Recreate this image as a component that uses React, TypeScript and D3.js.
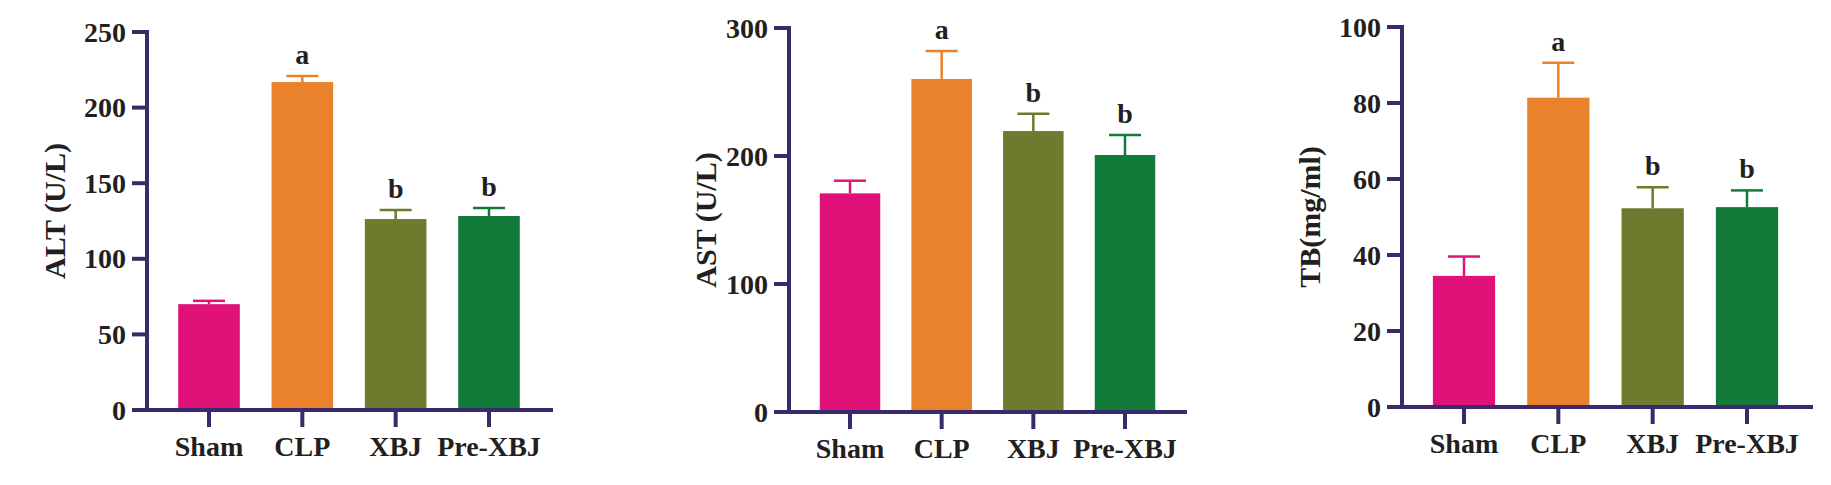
import React from "react";
import * as d3 from "d3";

const categories = ["Sham", "CLP", "XBJ", "Pre-XBJ"];
const barColors = ["#E1117A", "#E9822A", "#6C7B2E", "#127B39"];

const altMeans = [70, 216.9, 126.3, 128.3];
const altErrors = [2.2, 4, 6, 5.3];
const altLetters = ["", "a", "b", "b"];
const altTicks = [0, 50, 100, 150, 200, 250];

const astMeans = [170.8, 260.2, 219.5, 200.8];
const astErrors = [9.9, 21.8, 13.5, 15.6];
const astLetters = ["", "a", "b", "b"];
const astTicks = [0, 100, 200, 300];

const tbMeans = [34.5, 81.4, 52.3, 52.6];
const tbErrors = [5.1, 9.2, 5.5, 4.4];
const tbLetters = ["", "a", "b", "b"];
const tbTicks = [0, 20, 40, 60, 80, 100];

const AXIS = "#3A2A6C";
const TEXT = "#231F20";
const FONT = "'Liberation Serif', 'Times New Roman', serif";

type PanelProps = {
  title: string;
  means: number[];
  errors: number[];
  letters: string[];
  ticks: number[];
  axisX: number;
  yTop: number;
  yBase: number;
  firstCenter: number;
  lastCenter: number;
  baseEnd: number;
  titleX: number;
  titleY: number;
  labelY: number;
};

function Panel(p: PanelProps) {
  const maxV = p.ticks[p.ticks.length - 1];
  const y = d3.scaleLinear().domain([0, maxV]).range([p.yBase, p.yTop]);
  const step = (p.lastCenter - p.firstCenter) / (categories.length - 1);
  const x = d3
    .scaleBand<string>()
    .domain(categories)
    .range([p.firstCenter - step / 2, p.lastCenter + step / 2])
    .paddingInner(0.34)
    .paddingOuter(0.17);
  const bw = x.bandwidth();
  const capW = 32;
  const tickLen = 15;
  return (
    <g>
      {/* bars */}
      {categories.map((c, i) => (
        <rect
          key={"b" + c}
          x={x(c)}
          y={y(p.means[i])}
          width={bw}
          height={p.yBase - y(p.means[i])}
          fill={barColors[i]}
        />
      ))}
      {/* error bars */}
      {categories.map((c, i) => {
        const cx = (x(c) as number) + bw / 2;
        const top = y(p.means[i] + p.errors[i]);
        return (
          <g key={"e" + c} stroke={barColors[i]} strokeWidth={2.5}>
            <line x1={cx} x2={cx} y1={y(p.means[i])} y2={top} />
            <line x1={cx - capW / 2} x2={cx + capW / 2} y1={top} y2={top} />
          </g>
        );
      })}
      {/* letters */}
      {categories.map((c, i) =>
        p.letters[i] ? (
          <text
            key={"l" + c}
            x={(x(c) as number) + bw / 2}
            y={y(p.means[i] + p.errors[i]) - 12}
            textAnchor="middle"
            fontFamily={FONT}
            fontWeight="bold"
            fontSize={28}
            fill={TEXT}
          >
            {p.letters[i]}
          </text>
        ) : null
      )}
      {/* y axis */}
      <line x1={p.axisX} x2={p.axisX} y1={p.yTop - 2} y2={p.yBase} stroke={AXIS} strokeWidth={4} />
      {p.ticks.map((t) => (
        <g key={"t" + t}>
          <line
            x1={p.axisX - tickLen}
            x2={p.axisX}
            y1={y(t)}
            y2={y(t)}
            stroke={AXIS}
            strokeWidth={4}
          />
          <text
            x={p.axisX - tickLen - 6}
            y={y(t)}
            dy="0.34em"
            textAnchor="end"
            fontFamily={FONT}
            fontWeight="bold"
            fontSize={28}
            fill={TEXT}
          >
            {t}
          </text>
        </g>
      ))}
      {/* x axis */}
      <line
        x1={p.axisX - tickLen}
        x2={p.baseEnd}
        y1={p.yBase}
        y2={p.yBase}
        stroke={AXIS}
        strokeWidth={4}
      />
      {categories.map((c) => {
        const cx = (x(c) as number) + bw / 2;
        return (
          <g key={"x" + c}>
            <line x1={cx} x2={cx} y1={p.yBase} y2={p.yBase + 17} stroke={AXIS} strokeWidth={4} />
            <text
              x={cx}
              y={p.labelY}
              textAnchor="middle"
              fontFamily={FONT}
              fontWeight="bold"
              fontSize={28}
              fill={TEXT}
            >
              {c}
            </text>
          </g>
        );
      })}
      {/* title */}
      <text
        transform={`translate(${p.titleX},${p.titleY}) rotate(-90)`}
        textAnchor="middle"
        fontFamily={FONT}
        fontWeight="bold"
        fontSize={30}
        fill={TEXT}
      >
        {p.title}
      </text>
    </g>
  );
}

export default function App() {
  return (
    <svg
      width={1831}
      height={485}
      style={{ position: "absolute", left: 0, top: 0, background: "#fff" }}
    >
      <rect width={1831} height={485} fill="#fff" />
      <Panel
        title="ALT (U/L)"
        means={altMeans}
        errors={altErrors}
        letters={altLetters}
        ticks={altTicks}
        axisX={147}
        yTop={32}
        yBase={410}
        firstCenter={209}
        lastCenter={489}
        baseEnd={553}
        titleX={65}
        titleY={211}
        labelY={456}
      />
      <Panel
        title="AST (U/L)"
        means={astMeans}
        errors={astErrors}
        letters={astLetters}
        ticks={astTicks}
        axisX={789}
        yTop={28}
        yBase={412}
        firstCenter={850}
        lastCenter={1125}
        baseEnd={1187}
        titleX={716}
        titleY={220}
        labelY={458}
      />
      <Panel
        title="TB(mg/ml)"
        means={tbMeans}
        errors={tbErrors}
        letters={tbLetters}
        ticks={tbTicks}
        axisX={1402}
        yTop={27}
        yBase={407}
        firstCenter={1464}
        lastCenter={1747}
        baseEnd={1813}
        titleX={1320}
        titleY={217}
        labelY={453}
      />
    </svg>
  );
}
